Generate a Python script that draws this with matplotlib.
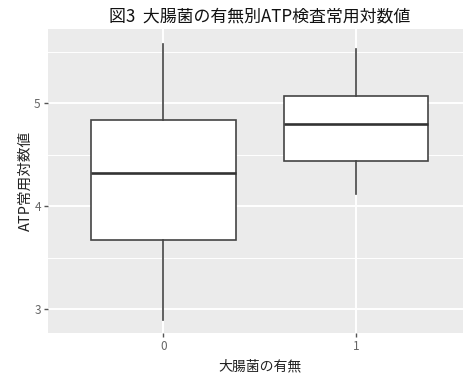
import matplotlib
matplotlib.use("Agg")
import matplotlib.pyplot as plt
from matplotlib.ticker import MultipleLocator

plt.rcParams['font.family'] = ['Noto Sans CJK JP', 'DejaVu Sans']

# Five-number summaries per group (log10 ATP)
groups = ["0", "1"]
whisker_low = [2.90, 4.12]
q1 = [3.67, 4.44]
median = [4.32, 4.80]
q3 = [4.84, 5.07]
whisker_high = [5.58, 5.53]

title = "図3  大腸菌の有無別ATP検査常用対数値"
xlabel = "大腸菌の有無"
ylabel = "ATP常用対数値"

W, H = 464, 373
fig = plt.figure(figsize=(W / 100, H / 100), dpi=100)
fig.patch.set_facecolor("white")

left, right, top, bottom = 47.7, 471.6, 29.3, 333.0
ax = fig.add_axes([left / W, 1 - bottom / H, (right - left) / W, (bottom - top) / H])
ax.set_facecolor("#EBEBEB")
for s in ax.spines.values():
    s.set_visible(False)

stats = []
for i, g in enumerate(groups):
    stats.append(dict(label=g, whislo=whisker_low[i], q1=q1[i], med=median[i],
                      q3=q3[i], whishi=whisker_high[i], fliers=[]))

edge = "#444444"
ax.bxp(stats, positions=[0, 1], widths=0.75, patch_artist=True, showcaps=False,
       boxprops=dict(facecolor="white", edgecolor=edge, linewidth=1.2),
       whiskerprops=dict(color=edge, linewidth=1.2),
       medianprops=dict(color="#333333", linewidth=1.9),
       zorder=3)

ax.set_xlim(-0.6, 1.6)
ax.set_ylim(2.77, 5.718)
ax.yaxis.set_major_locator(MultipleLocator(1))
ax.yaxis.set_minor_locator(MultipleLocator(0.5))
ax.set_xticks([0, 1])
ax.set_xticklabels(groups)

ax.grid(which="major", color="white", linewidth=1.4, zorder=0)
ax.grid(which="minor", axis="y", color="white", linewidth=0.7, zorder=0)
ax.set_axisbelow(True)

ax.tick_params(axis="both", which="major", length=3, width=1.0, color="#555555",
               labelcolor="#666666", labelsize=8.5, pad=2)
ax.tick_params(axis="y", which="minor", length=0)

ax.set_xlabel(xlabel, fontsize=10, color="#222222", labelpad=5)
ax.set_ylabel(ylabel, fontsize=10.5, color="#222222", labelpad=1)

fig.text((left + right) / 2 / W, 1 - 16 / H, title, ha="center", va="center",
         fontsize=12.2, color="#111111")

fig.savefig("out.png", dpi=100)
